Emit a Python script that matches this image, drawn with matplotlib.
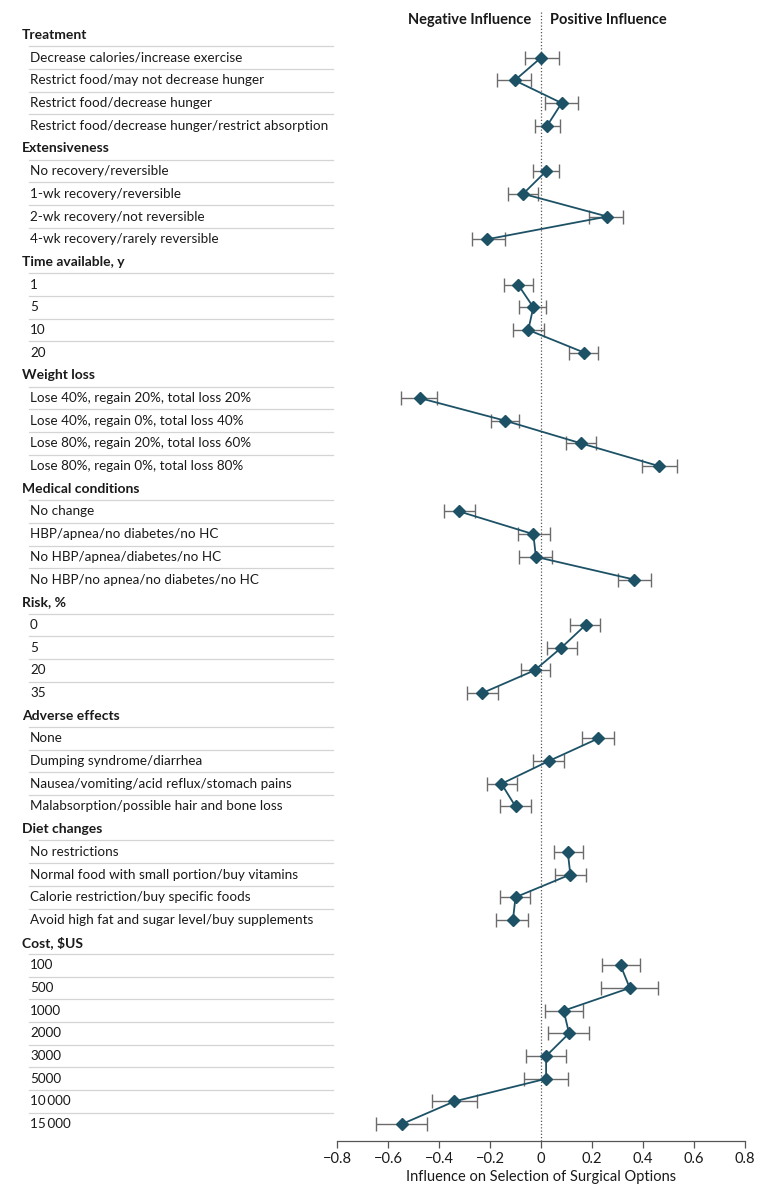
import matplotlib
matplotlib.use("Agg")
import matplotlib.pyplot as plt
import matplotlib.transforms as mtrans

# ── data ────────────────────────────────────────────────────────────
groups = ["Treatment", "Extensiveness", "Time available, y", "Weight loss",
          "Medical conditions", "Risk, %", "Adverse effects", "Diet changes",
          "Cost, $US"]

levels = [
    ["Decrease calories/increase exercise", "Restrict food/may not decrease hunger",
     "Restrict food/decrease hunger", "Restrict food/decrease hunger/restrict absorption"],
    ["No recovery/reversible", "1-wk recovery/reversible",
     "2-wk recovery/not reversible", "4-wk recovery/rarely reversible"],
    ["1", "5", "10", "20"],
    ["Lose 40%, regain 20%, total loss 20%", "Lose 40%, regain 0%, total loss 40%",
     "Lose 80%, regain 20%, total loss 60%", "Lose 80%, regain 0%, total loss 80%"],
    ["No change", "HBP/apnea/no diabetes/no HC",
     "No HBP/apnea/diabetes/no HC", "No HBP/no apnea/no diabetes/no HC"],
    ["0", "5", "20", "35"],
    ["None", "Dumping syndrome/diarrhea",
     "Nausea/vomiting/acid reflux/stomach pains", "Malabsorption/possible hair and bone loss"],
    ["No restrictions", "Normal food with small portion/buy vitamins",
     "Calorie restriction/buy specific foods", "Avoid high fat and sugar level/buy supplements"],
    ["100", "500", "1000", "2000", "3000", "5000", "10\u2009000", "15\u2009000"],
]

estimate = [
    [0.00, -0.103, 0.081, 0.024],
    [0.02, -0.07, 0.26, -0.21],
    [-0.09, -0.03, -0.05, 0.17],
    [-0.476, -0.14, 0.158, 0.463],
    [-0.32, -0.03, -0.02, 0.365],
    [0.175, 0.08, -0.025, -0.23],
    [0.225, 0.03, -0.155, -0.10],
    [0.105, 0.115, -0.10, -0.11],
    [0.312, 0.348, 0.089, 0.11, 0.02, 0.02, -0.34, -0.546],
]
ci_low = [
    [-0.064, -0.171, 0.014, -0.025],
    [-0.03, -0.13, 0.19, -0.27],
    [-0.145, -0.085, -0.11, 0.11],
    [-0.548, -0.195, 0.097, 0.397],
    [-0.38, -0.09, -0.085, 0.30],
    [0.115, 0.025, -0.08, -0.29],
    [0.16, -0.03, -0.21, -0.16],
    [0.05, 0.055, -0.16, -0.175],
    [0.238, 0.234, 0.014, 0.026, -0.06, -0.068, -0.429, -0.648],
]
ci_high = [
    [0.07, -0.038, 0.145, 0.076],
    [0.07, -0.01, 0.32, -0.14],
    [-0.03, 0.02, 0.01, 0.225],
    [-0.407, -0.087, 0.216, 0.532],
    [-0.26, 0.035, 0.045, 0.43],
    [0.23, 0.14, 0.035, -0.17],
    [0.285, 0.09, -0.095, -0.04],
    [0.165, 0.175, -0.045, -0.05],
    [0.387, 0.46, 0.163, 0.19, 0.097, 0.106, -0.25, -0.446],
]

x_ticks = [-0.8, -0.6, -0.4, -0.2, 0, 0.2, 0.4, 0.6, 0.8]

# ── style ───────────────────────────────────────────────────────────
MARK = "#1d5266"
ERR = "#6b6b6b"
RULE = "#d4d4d4"
TEXT = "#1a1a1a"
plt.rcParams["font.family"] = ["Lato", "DejaVu Sans"]

W, H = 780, 1193
fig = plt.figure(figsize=(W / 100, H / 100), dpi=100)

# axes placed in pixel terms of the reference
ax_left, ax_right, ax_top, ax_bot = 337, 745, 12, 1141
ax = fig.add_axes([ax_left / W, 1 - ax_bot / H,
                   (ax_right - ax_left) / W, (ax_bot - ax_top) / H])

row0, pitch = 35, 22.69
ax.set_xlim(-0.8, 0.8)
ax.set_ylim((ax_bot - row0) / pitch, (ax_top - row0) / pitch)

lab = mtrans.blended_transform_factory(fig.transFigure, ax.transData)

r = 0
for g, name in enumerate(groups):
    ax.text(22 / W, r, name, transform=lab, fontsize=10, fontweight="bold",
            color=TEXT, va="center", ha="left")
    r += 1
    rows = list(range(r, r + len(levels[g])))
    for i, lvl in enumerate(levels[g]):
        ax.text(30 / W, rows[i], lvl, transform=lab, fontsize=9.7,
                color=TEXT, va="center", ha="left")
        ax.plot([29 / W, 333 / W], [rows[i] - 0.5] * 2, transform=lab,
                color=RULE, lw=0.9, clip_on=False)
    est = estimate[g]
    xerr = [[e - lo for e, lo in zip(est, ci_low[g])],
            [hi - e for e, hi in zip(est, ci_high[g])]]
    ax.errorbar(est, rows, xerr=xerr, fmt="none", ecolor=ERR, elinewidth=1.0,
                capsize=5, capthick=1.0, zorder=2)
    ax.plot(est, rows, color=MARK, lw=1.3, marker="D", ms=6.5,
            mfc=MARK, mec=MARK, zorder=3)
    r += len(levels[g])

ax.axvline(0, color="#555555", lw=0.9, ls=(0, (1, 1.6)), zorder=1)

ax.text(-0.04, -0.66, "Negative Influence", fontsize=10.5, fontweight="bold",
        color=TEXT, ha="right", va="center")
ax.text(0.036, -0.66, "Positive Influence", fontsize=10.5, fontweight="bold",
        color=TEXT, ha="left", va="center")

for s in ["top", "left", "right"]:
    ax.spines[s].set_visible(False)
ax.spines["bottom"].set_color("#555555")
ax.spines["bottom"].set_linewidth(0.9)
ax.set_yticks([])
ax.set_xticks(x_ticks)
ax.set_xticklabels(["0" if t == 0 else f"{t:.1f}".replace("-", "\u2212") for t in x_ticks],
                   fontsize=10.5, color=TEXT)
ax.tick_params(axis="x", direction="out", length=5, width=0.9, color="#555555", pad=3)
ax.set_xlabel("Influence on Selection of Surgical Options", fontsize=10.5,
              color=TEXT, labelpad=3)

fig.savefig("out.png", dpi=100)
